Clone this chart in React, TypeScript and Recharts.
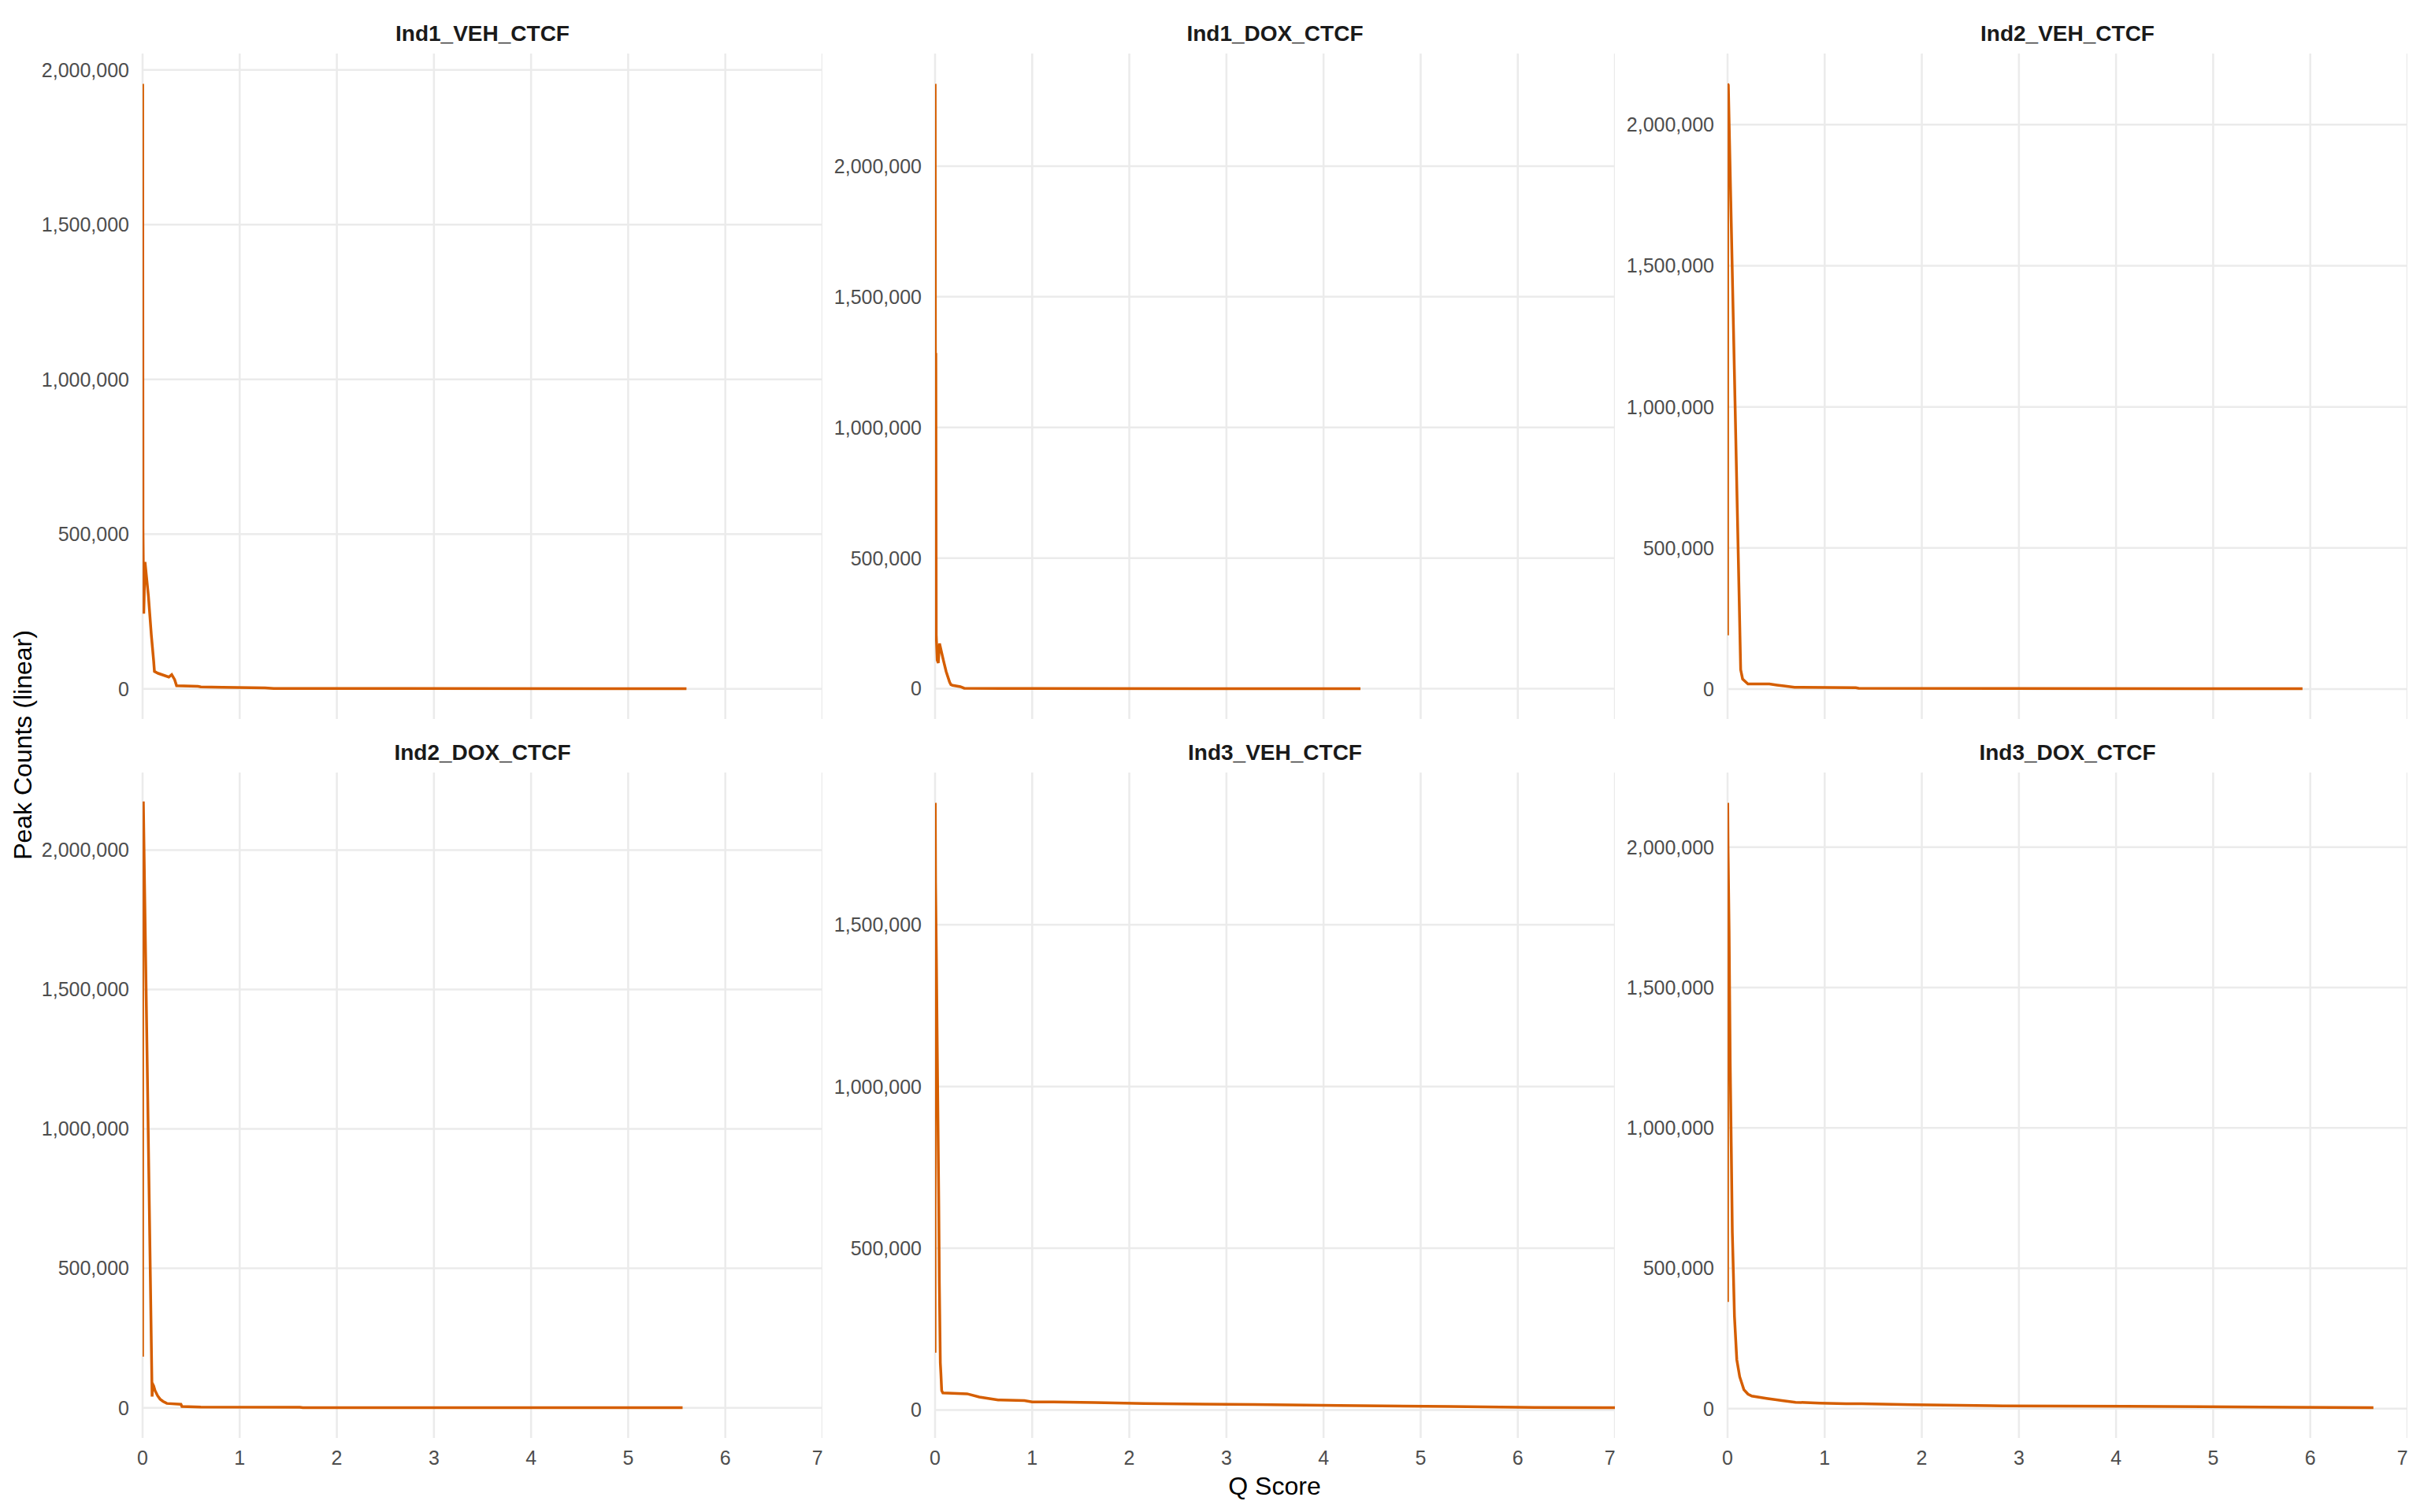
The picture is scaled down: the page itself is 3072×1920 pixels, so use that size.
import { CartesianGrid, Line, LineChart, XAxis, YAxis } from "recharts";

const ind1VehQ = [0, 0.001, 0.004, 0.012, 0.025, 0.06, 0.09, 0.114, 0.122, 0.16, 0.27, 0.3, 0.33, 0.35, 0.57, 0.6, 0.82, 1.26, 1.35, 5.6];
const ind1VehCounts = [540000, 1955000, 520000, 243000, 410000, 300000, 174000, 90000, 56000, 50000, 38000, 46000, 30000, 10000, 8000, 6000, 5000, 3000, 1000, 200];

const ind1DoxQ = [0, 0.001, 0.006, 0.008, 0.012, 0.022, 0.033, 0.046, 0.087, 0.114, 0.15, 0.163, 0.18, 0.26, 0.3, 1.0, 4.38];
const ind1DoxCounts = [260000, 2315000, 260000, 1285000, 206000, 110000, 99000, 173000, 107000, 66000, 25000, 16000, 13000, 8000, 2000, 1000, 100];

const ind2VehQ = [0, 0.002, 0.008, 0.04, 0.07, 0.1, 0.12, 0.135, 0.155, 0.21, 0.43, 0.51, 0.58, 0.69, 1.32, 1.35, 5.92];
const ind2VehCounts = [190000, 2145000, 2140000, 1620000, 1130000, 640000, 315000, 69000, 35000, 18000, 18000, 14000, 11000, 6000, 4500, 2500, 1000];

const ind2DoxQ = [0, 0.002, 0.008, 0.02, 0.05, 0.08, 0.098, 0.104, 0.114, 0.128, 0.155, 0.18, 0.21, 0.25, 0.395, 0.405, 0.6, 1.62, 1.65, 5.56];
const ind2DoxCounts = [183000, 2170000, 2170000, 1880000, 1180000, 470000, 40000, 85000, 78000, 62000, 43000, 31000, 23000, 15500, 12400, 4600, 2500, 1500, 300, 100];

const ind3VehQ = [0, 0.002, 0.005, 0.014, 0.022, 0.03, 0.038, 0.044, 0.054, 0.06, 0.068, 0.08, 0.33, 0.455, 0.65, 0.92, 1.0, 1.22, 1.64, 2.15, 3.29, 4.16, 5.3, 6.17, 7.2];
const ind3VehCounts = [177000, 1877000, 1630000, 1384000, 1130000, 885000, 639000, 393000, 146000, 113000, 60000, 53000, 50000, 40000, 31000, 29000, 25000, 25000, 23000, 20000, 17000, 14000, 11000, 8000, 7000];

const ind3DoxQ = [0, 0.002, 0.005, 0.016, 0.027, 0.038, 0.049, 0.06, 0.071, 0.095, 0.125, 0.168, 0.21, 0.25, 0.4, 0.56, 0.7, 0.95, 1.22, 1.38, 1.91, 2.71, 4.1, 5.81, 6.65];
const ind3DoxCounts = [380000, 2158000, 2000000, 1697000, 1236000, 936000, 629000, 483000, 329000, 175000, 114000, 68000, 52000, 45000, 37000, 29000, 23000, 20000, 18000, 17500, 14000, 10500, 9000, 5000, 3500];

const panelTitles = ["Ind1_VEH_CTCF", "Ind1_DOX_CTCF", "Ind2_VEH_CTCF", "Ind2_DOX_CTCF", "Ind3_VEH_CTCF", "Ind3_DOX_CTCF"];
const panelQ = [ind1VehQ, ind1DoxQ, ind2VehQ, ind2DoxQ, ind3VehQ, ind3DoxQ];
const panelCounts = [ind1VehCounts, ind1DoxCounts, ind2VehCounts, ind2DoxCounts, ind3VehCounts, ind3DoxCounts];

const qTicks = [0, 1, 2, 3, 4, 5, 6, 7];
const countTicks = [0, 500000, 1000000, 1500000, 2000000];

const FONT = "'Liberation Sans', Arial, Helvetica, sans-serif";
const PLOT_W = 863;
const PLOT_H = 845;
const Y_AXIS_W = 140;
const X_AXIS_H = 60;
const COL_LEFT = [181, 1187, 2193];
const ROW_TOP = [68, 981];

const tickStyle = { fill: "#4D4D4D", fontSize: 25, fontFamily: FONT };

function Panel({ index }: { index: number }) {
  const col = index % 3;
  const row = Math.floor(index / 3);
  const counts = panelCounts[index];
  const data = panelQ[index].map((q, i) => ({ q, count: counts[i] }));
  const lo = Math.min(...counts);
  const hi = Math.max(...counts);
  const pad = (hi - lo) * 0.05;
  const domain: [number, number] = [lo - pad, hi + pad];
  const yTicks = countTicks.filter((t) => t >= domain[0] && t <= domain[1]);
  const bottom = row === 1;

  return (
    <>
      <div
        style={{
          position: "absolute",
          left: COL_LEFT[col],
          top: ROW_TOP[row] - 41,
          width: PLOT_W,
          textAlign: "center",
          fontWeight: 700,
          fontSize: 28,
          lineHeight: "32px",
          color: "#1A1A1A",
        }}
      >
        {panelTitles[index]}
      </div>
      <div style={{ position: "absolute", left: COL_LEFT[col] - Y_AXIS_W, top: ROW_TOP[row] }}>
        <LineChart
          width={PLOT_W + Y_AXIS_W}
          height={PLOT_H + (bottom ? X_AXIS_H : 0)}
          data={data}
          margin={{ top: 0, right: 0, bottom: 0, left: 0 }}
        >
          <CartesianGrid stroke="#EBEBEB" strokeWidth={2.5} syncWithTicks />
          <XAxis
            dataKey="q"
            type="number"
            domain={[0, 7]}
            ticks={qTicks}
            allowDataOverflow
            axisLine={false}
            tickLine={false}
            tickSize={0}
            tickMargin={16}
            height={bottom ? X_AXIS_H : 0}
            tick={bottom ? tickStyle : () => <g />}
          />
          <YAxis
            type="number"
            domain={domain}
            ticks={yTicks}
            allowDataOverflow
            width={Y_AXIS_W}
            axisLine={false}
            tickLine={false}
            tickSize={0}
            tickMargin={17}
            tickFormatter={(v: number) => v.toLocaleString("en-US")}
            tick={tickStyle}
          />
          <Line
            type="linear"
            dataKey="count"
            stroke="#D55E00"
            strokeWidth={3.5}
            dot={false}
            isAnimationActive={false}
          />
        </LineChart>
      </div>
    </>
  );
}

export default function App() {
  return (
    <div
      style={{
        position: "absolute",
        left: 0,
        top: 0,
        width: 3072,
        height: 1920,
        background: "#FFFFFF",
        fontFamily: FONT,
        overflow: "hidden",
      }}
    >
      {panelTitles.map((t, i) => (
        <Panel key={t} index={i} />
      ))}
      <div
        style={{
          position: "absolute",
          left: 1418,
          top: 1867,
          width: 400,
          textAlign: "center",
          fontSize: 32,
          lineHeight: "40px",
          color: "#000000",
        }}
      >
        Q Score
      </div>
      <div
        style={{
          position: "absolute",
          left: 29 - 250,
          top: 946 - 20,
          width: 500,
          height: 40,
          textAlign: "center",
          fontSize: 32,
          lineHeight: "40px",
          color: "#000000",
          transform: "rotate(-90deg)",
        }}
      >
        Peak Counts (linear)
      </div>
    </div>
  );
}
